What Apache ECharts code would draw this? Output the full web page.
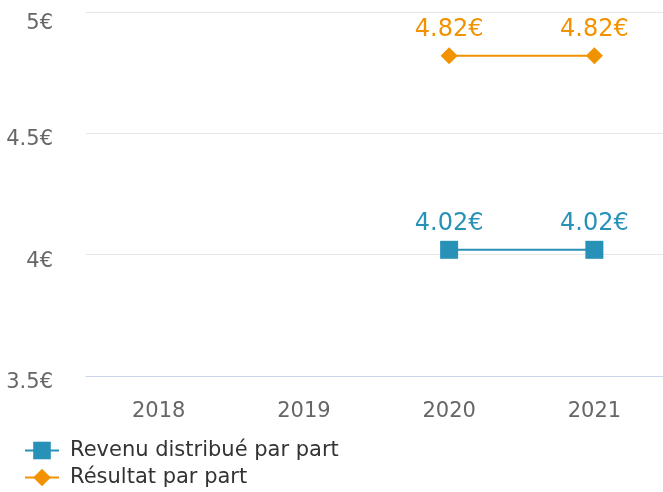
<!DOCTYPE html>
<html lang="fr">
<head>
    <meta charset="UTF-8">
    <title>Revenu et résultat par part</title>
    <script src="https://cdn.jsdelivr.net/npm/echarts@6/dist/echarts.min.js"></script>
    <style>
        html, body { margin: 0; padding: 0; background: #fff; }
    </style>
</head>
<body>
<div id="main" style="width: 663px;height:492px;"></div>
<script type="text/javascript">
    var annees = ['2018', '2019', '2020', '2021'];
    var revenuDistribue = [null, null, 4.02, 4.02];
    var resultatPart = [null, null, 4.82, 4.82];
    var yTicks = [3.5, 4, 4.5, 5];

    var police = "'DejaVu Sans', sans-serif";
    var bleu = '#2891b8';
    var orange = '#f39200';

    function euro(v) {
        return String(v) + '€';
    }

    var myChart = echarts.init(document.getElementById('main'));
    var option = {
        animation: false,
        textStyle: { fontFamily: police },
        grid: {
            left: 86, top: 12, width: 581, height: 364,
            containLabel: false, outerBoundsMode: 'none'
        },
        legend: {
            orient: 'horizontal',
            left: 24,
            top: 440,
            width: 330,
            padding: 0,
            itemWidth: 34,
            itemHeight: 22,
            itemGap: 6,
            textStyle: { fontFamily: police, fontSize: 21, color: '#333333', padding: [0, 0, 0, 6] },
            data: ['Revenu distribué par part', 'Résultat par part']
        },
        xAxis: {
            type: 'category',
            data: annees,
            axisLine: { lineStyle: { color: '#ccd6eb', width: 1 } },
            axisTick: { show: false },
            axisLabel: { fontFamily: police, fontSize: 21, color: '#666666', margin: 25 }
        },
        yAxis: {
            type: 'value',
            min: yTicks[0],
            max: yTicks[yTicks.length - 1],
            interval: 0.5,
            axisLine: { show: false },
            axisTick: { show: false },
            splitLine: { lineStyle: { color: '#e6e6e6', width: 1 } },
            axisLabel: {
                fontFamily: police, fontSize: 21, color: '#666666', margin: 33,
                verticalAlignMaxLabel: 'top',
                formatter: function (v) {
                    if (v === yTicks[yTicks.length - 1]) return '{h|' + euro(v) + '}';
                    return '{n|' + euro(v) + '}';
                },
                rich: {
                    n: { fontFamily: police, fontSize: 21, color: '#666666', padding: [13, 0, 0, 0] },
                    h: { fontFamily: police, fontSize: 21, color: '#666666', padding: [1, 0, 0, 0] }
                }
            }
        },
        series: [
            {
                name: 'Revenu distribué par part',
                type: 'line',
                data: revenuDistribue,
                symbol: 'rect',
                symbolSize: 18,
                color: bleu,
                lineStyle: { width: 2, color: bleu },
                itemStyle: { color: bleu },
                label: {
                    show: true, position: 'top', distance: 5,
                    fontFamily: police, fontSize: 24, color: bleu,
                    formatter: function (p) { return euro(p.value.toFixed(2)); }
                }
            },
            {
                name: 'Résultat par part',
                type: 'line',
                data: resultatPart,
                symbol: 'diamond',
                symbolSize: 17,
                color: orange,
                lineStyle: { width: 2, color: orange },
                itemStyle: { color: orange },
                label: {
                    show: true, position: 'top', distance: 5,
                    fontFamily: police, fontSize: 24, color: orange,
                    formatter: function (p) { return euro(p.value.toFixed(2)); }
                }
            }
        ]
    };
    myChart.setOption(option);
</script>
</body>
</html>
